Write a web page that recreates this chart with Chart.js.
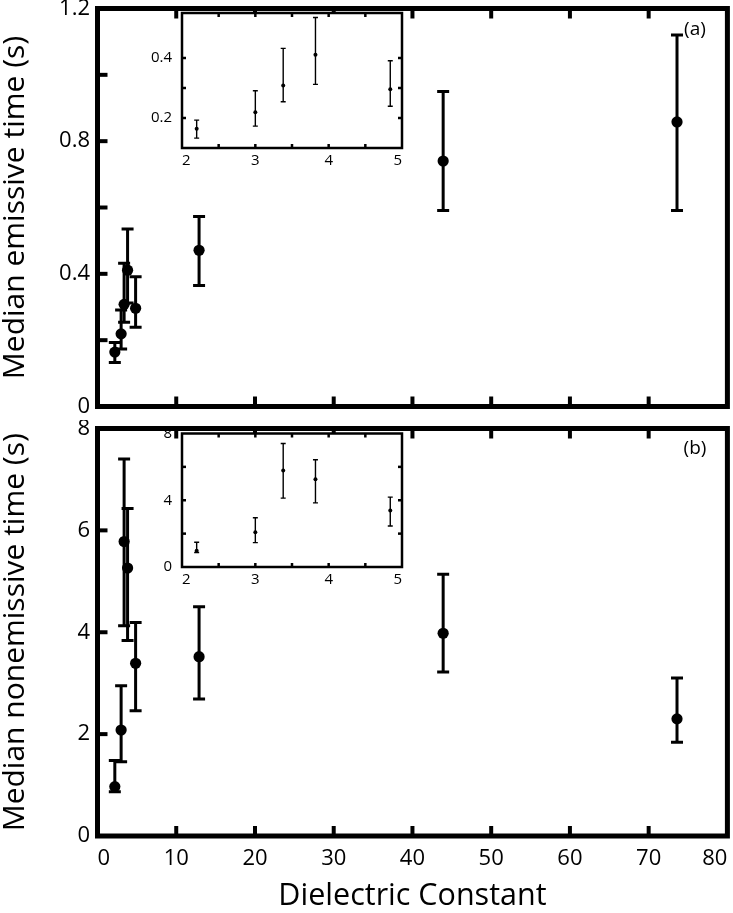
<!DOCTYPE html>
<html><head><meta charset="utf-8">
<script src="https://cdn.jsdelivr.net/npm/chart.js@4.4.1/dist/chart.umd.min.js"></script>
<style>
html,body{margin:0;padding:0;background:#fff;}
#wrap{position:relative;width:733px;height:913px;overflow:hidden;background:#fff;}
canvas{position:absolute;display:block;}
</style></head><body>
<div id="wrap">
<canvas id="cA" width="733" height="420" style="left:0;top:0"></canvas>
<canvas id="cB" width="733" height="493" style="left:0;top:420px"></canvas>
<canvas id="iA" width="300" height="180" style="left:120px;top:0"></canvas>
<canvas id="iB" width="300" height="180" style="left:120px;top:420px"></canvas>
</div>
<script>
// ---------- data ----------
const dielectric = [2.2, 3.0, 3.38, 3.82, 4.84, 12.9, 43.9, 73.6];
const emissive     = [0.164, 0.219, 0.308, 0.411, 0.296, 0.471, 0.740, 0.858];
const emissiveLow  = [0.133, 0.173, 0.254, 0.312, 0.239, 0.365, 0.591, 0.591];
const emissiveHigh = [0.193, 0.291, 0.432, 0.535, 0.391, 0.573, 0.950, 1.120];
const nonemissive     = [0.97, 2.08, 5.78, 5.26, 3.39, 3.52, 3.98, 2.30];
const nonemissiveLow  = [0.87, 1.46, 4.13, 3.84, 2.46, 2.69, 3.22, 1.84];
const nonemissiveHigh = [1.48, 2.95, 7.40, 6.43, 4.19, 4.50, 5.14, 3.10];
const insetCount = 5; // points with dielectric constant between 2 and 5
const emissiveTickLabels = [0, 0.4, 0.8, 1.2];
const nonemissiveTickLabels = [0, 2, 4, 6, 8];
const insetEmissiveTickLabels = [0.2, 0.4];
const insetNonemissiveTickLabels = [0, 4, 8];
const insetXTickLabels = [2, 3, 4, 5];
const mainXTickLabels = [0, 10, 20, 30, 40, 50, 60, 70, 80];

const FONT = '"Open Sans", Lato, sans-serif';
Chart.defaults.color = '#000';
Chart.defaults.font.family = FONT;

function fmt(v){ return String(Math.round(v*100)/100); }
function labelFrom(list){
  return function(v){ return list.some(l => Math.abs(l - v) < 1e-6) ? fmt(v) : ''; };
}
function pts(xs, ys){ return xs.map((x,i)=>({x:x, y:ys[i]})); }

// ---------- plugins ----------
const frameTicks = {
  id:'frameTicks',
  beforeDraw(chart, args, o){
    if(!o.fill) return;
    const a = chart.chartArea, ctx = chart.ctx;
    ctx.save(); ctx.fillStyle = '#fff';
    ctx.fillRect(a.left, a.top, a.right-a.left, a.bottom-a.top);
    ctx.restore();
  },
  afterDatasetsDraw(chart, args, o){
    const {ctx, chartArea:a, scales:{x, y}} = chart;
    ctx.save();
    ctx.strokeStyle = '#000'; ctx.lineCap = 'butt';
    ctx.lineWidth = o.tickWidth;
    const line = (x1,y1,x2,y2)=>{ ctx.beginPath(); ctx.moveTo(x1,y1); ctx.lineTo(x2,y2); ctx.stroke(); };
    x.ticks.forEach(t=>{
      const p = x.getPixelForValue(t.value);
      if(p < a.left + 2 || p > a.right - 2) return;
      line(p, a.bottom, p, a.bottom - o.tickLen);
      line(p, a.top, p, a.top + o.tickLen);
    });
    y.ticks.forEach(t=>{
      const p = y.getPixelForValue(t.value);
      if(p < a.top + 2 || p > a.bottom - 2) return;
      line(a.left, p, a.left + o.tickLen, p);
      if(o.yRight) line(a.right, p, a.right - o.tickLen, p);
    });
    ctx.lineWidth = o.frameWidth;
    ctx.strokeRect(a.left, a.top, a.right-a.left, a.bottom-a.top);
    if(o.tag){
      ctx.fillStyle = '#000';
      ctx.font = '19px ' + FONT;
      ctx.textAlign = 'center'; ctx.textBaseline = 'middle';
      ctx.fillText(o.tag, o.tagX, o.tagY);
    }
    ctx.restore();
  }
};
const errorBars = {
  id:'errorBars',
  beforeDatasetsDraw(chart, args, o){
    const {ctx, scales:{x, y}} = chart;
    ctx.save();
    ctx.strokeStyle = '#000'; ctx.lineWidth = o.width; ctx.lineCap = 'butt';
    chart.data.datasets.forEach(ds=>{
      ds.data.forEach((p,i)=>{
        const px = x.getPixelForValue(p.x);
        const lo = y.getPixelForValue(ds.errLow[i]);
        const hi = y.getPixelForValue(ds.errHigh[i]);
        ctx.beginPath();
        ctx.moveTo(px, lo); ctx.lineTo(px, hi);
        ctx.moveTo(px - o.cap, lo); ctx.lineTo(px + o.cap, lo);
        ctx.moveTo(px - o.cap, hi); ctx.lineTo(px + o.cap, hi);
        ctx.stroke();
      });
    });
    ctx.restore();
  }
};

function makeChart(id, cfg){
  const isInset = cfg.inset;
  return new Chart(document.getElementById(id), {
    type:'scatter',
    data:{datasets:[{
      data: cfg.data, errLow: cfg.low, errHigh: cfg.high,
      backgroundColor:'#000', borderColor:'#000',
      pointRadius: isInset ? 2 : 5.6, pointHoverRadius: isInset ? 2 : 5.6, borderWidth:0
    }]},
    options:{
      responsive:false, animation:false, events:[],
      layout:{padding:cfg.padding},
      plugins:{legend:{display:false}, tooltip:{enabled:false},
        frameTicks:cfg.frame, errorBars:cfg.err},
      scales:{
        x:{type:'linear', min:cfg.xmin, max:cfg.xmax,
          grid:{display:false, drawTicks:false}, border:{display:false},
          ticks:{display:cfg.xLabels, stepSize:cfg.xstep, autoSkip:false, maxRotation:0,
            align:'inner', padding:cfg.xPad, font:{size:cfg.tickSize},
            callback:labelFrom(cfg.xTickLabels)},
          title:{display:!!cfg.xTitle, text:cfg.xTitle||'', font:{size:30.5, lineHeight:1.0}, padding:{top:0,bottom:1}},
          afterFit(s){ s.height = cfg.xH; s.paddingLeft = 0; s.paddingRight = 0; }
        },
        y:{type:'linear', min:cfg.ymin, max:cfg.ymax,
          grid:{display:false, drawTicks:false}, border:{display:false},
          ticks:{stepSize:cfg.ystep, autoSkip:false, padding:cfg.yPad, align:cfg.yAlign||'center',
            font:{size:cfg.tickSize}, callback:labelFrom(cfg.yTickLabels)},
          title:{display:!!cfg.yTitle, text:cfg.yTitle||'', font:{size:30, lineHeight:1.0}, padding:{top:0,bottom:0}},
          afterFit(s){ s.width = cfg.yW; s.paddingTop = 0; s.paddingBottom = 0; }
        }
      }
    },
    plugins:[frameTicks, errorBars]
  });
}

// (a) main
makeChart('cA', {
  data: pts(dielectric, emissive), low: emissiveLow, high: emissiveHigh,
  padding:{top:8.5, right:5.5, left:0, bottom:0},
  xmin:0, xmax:80, xstep:10, xLabels:false, xTickLabels:mainXTickLabels, xPad:0, xH:13.5,
  ymin:0, ymax:1.2, ystep:0.2, yTickLabels:emissiveTickLabels, yPad:7.5, yW:97.5,
  tickSize:22, yTitle:'Median emissive time (s)',
  frame:{tickWidth:4, tickLen:10, frameWidth:5, tag:'(a)', tagX:695, tagY:30},
  err:{width:3, cap:6}
});
// (b) main
makeChart('cB', {
  data: pts(dielectric, nonemissive), low: nonemissiveLow, high: nonemissiveHigh,
  padding:{top:8.5, right:5.5, left:0, bottom:0},
  xmin:0, xmax:80, xstep:10, xLabels:true, xTickLabels:mainXTickLabels, xPad:10, xH:77,
  ymin:0, ymax:8, ystep:2, yTickLabels:nonemissiveTickLabels, yPad:7.5, yW:97.5,
  tickSize:22, yTitle:'Median nonemissive time (s)', xTitle:'Dielectric Constant',
  frame:{tickWidth:4, tickLen:10, frameWidth:5, tag:'(b)', tagX:695, tagY:29},
  err:{width:3, cap:6}
});
// (a) inset
makeChart('iA', {
  inset:true,
  data: pts(dielectric.slice(0,insetCount), emissive.slice(0,insetCount)),
  low: emissiveLow.slice(0,insetCount), high: emissiveHigh.slice(0,insetCount),
  padding:{top:13, right:18, left:0, bottom:0},
  xmin:2, xmax:5, xstep:0.5, xLabels:true, xTickLabels:insetXTickLabels, xPad:4, xH:32,
  ymin:0.1, ymax:0.55, ystep:0.1, yTickLabels:insetEmissiveTickLabels, yPad:10, yW:62,
  tickSize:15,
  frame:{fill:true, tickWidth:2.5, tickLen:4, frameWidth:2.5, yRight:true},
  err:{width:1.4, cap:2.5}
});
// (b) inset
makeChart('iB', {
  inset:true,
  data: pts(dielectric.slice(0,insetCount), nonemissive.slice(0,insetCount)),
  low: nonemissiveLow.slice(0,insetCount), high: nonemissiveHigh.slice(0,insetCount),
  padding:{top:13.5, right:18, left:0, bottom:0},
  xmin:2, xmax:5, xstep:0.5, xLabels:true, xTickLabels:insetXTickLabels, xPad:4, xH:33,
  ymin:0, ymax:8, ystep:2, yTickLabels:insetNonemissiveTickLabels, yPad:10, yW:62, yAlign:'inner',
  tickSize:15,
  frame:{fill:true, tickWidth:2.5, tickLen:4, frameWidth:2.5, yRight:true},
  err:{width:1.4, cap:2.5}
});
</script>
</body></html>
